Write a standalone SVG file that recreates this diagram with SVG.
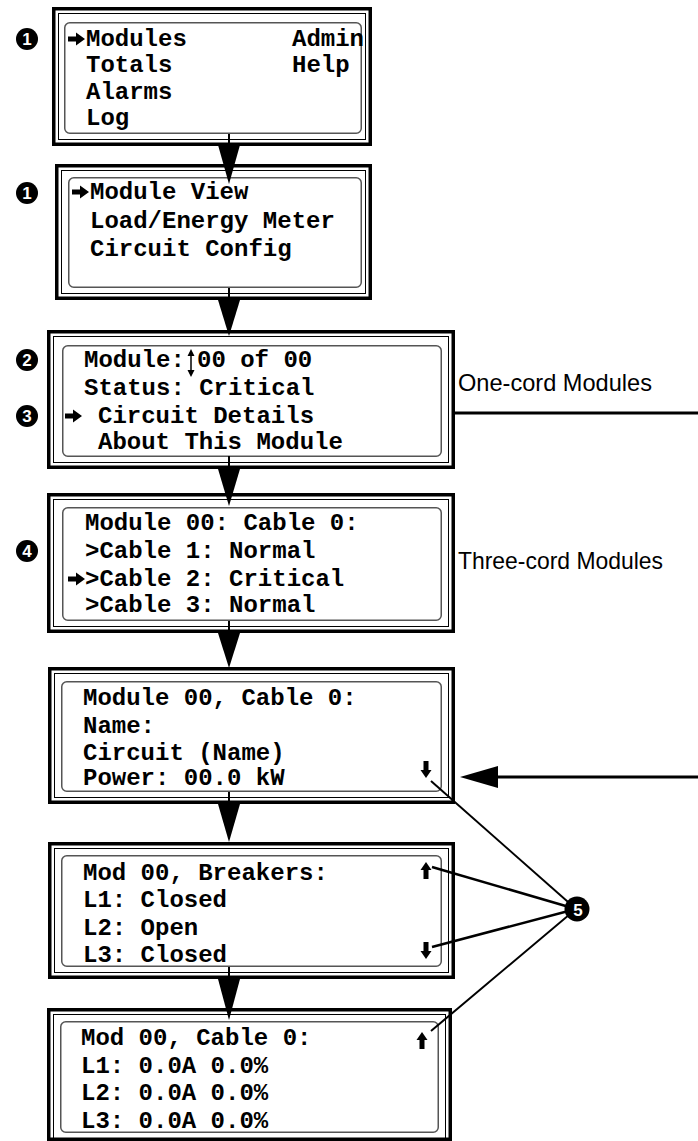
<svg xmlns="http://www.w3.org/2000/svg" xmlns:xlink="http://www.w3.org/1999/xlink" width="698" height="1141" viewBox="0 0 698 1141">
<style>
.outer{fill:#fff;stroke:#000;stroke-width:3.5}
.inner{fill:none;stroke:#000;stroke-width:1}
.screen{fill:none;stroke:#555;stroke-width:1.5}
.t{font-family:"Liberation Mono","Courier New",monospace;font-weight:bold;font-size:24px;fill:#000}
.lbl{font-family:"Liberation Sans Narrow","Liberation Sans",Arial,sans-serif;font-size:24px;fill:#000}
.num{font-family:"Liberation Sans",Arial,sans-serif;font-weight:bold;font-size:17px;fill:#fff;text-anchor:middle}
.conn{stroke:#000;fill:none}
</style>
<defs>
<path id="ra" d="M0,-2.5 H8 V-6.5 L17,0 L8,6.5 V2.5 H0 Z" fill="#000"/>
<path id="da" d="M-2.5,-17 H2.5 V-8 H5.5 L0,0 L-5.5,-8 H-2.5 Z" fill="#000"/>
<path id="ua" d="M-2.5,17 H2.5 V8 H5.5 L0,0 L-5.5,8 H-2.5 Z" fill="#000"/>
</defs>

<g id="box1">
<rect class="outer" x="53.75" y="8.75" width="316.5" height="135.5"/>
<rect class="inner" x="58.5" y="13.5" width="307" height="126"/>
<rect class="screen" x="64.75" y="22.75" width="296.5" height="110.5" rx="5"/>
<use xlink:href="#ra" x="68" y="39"/>
<text class="t" x="86" y="46">Modules</text>
<text class="t" x="292" y="46">Admin</text>
<text class="t" x="86" y="72">Totals</text>
<text class="t" x="292" y="72">Help</text>
<text class="t" x="86" y="99">Alarms</text>
<text class="t" x="86" y="125">Log</text>
</g>

<g id="box2">
<rect class="outer" x="56.75" y="165.75" width="313.5" height="132.5"/>
<rect class="inner" x="61.5" y="170.5" width="304" height="123"/>
<rect class="screen" x="68.75" y="177.75" width="292.5" height="109.5" rx="5"/>
<use xlink:href="#ra" x="72" y="192"/>
<text class="t" x="90" y="199">Module View</text>
<text class="t" x="90" y="227.5">Load/Energy Meter</text>
<text class="t" x="90" y="256">Circuit Config</text>
</g>

<g id="box3">
<rect class="outer" x="48.75" y="331.75" width="404.5" height="135.5"/>
<rect class="inner" x="53.5" y="336.5" width="395" height="126"/>
<rect class="screen" x="62.75" y="345.75" width="378.5" height="110.5" rx="5"/>
<text class="t" x="84" y="367">Module:</text>
<line x1="191" y1="352" x2="191" y2="374" stroke="#000" stroke-width="1.5"/>
<path d="M187.5,356 L191,349 L194.5,356 Z M187.5,370 L191,377 L194.5,370 Z"/>
<text class="t" x="197" y="367">00 of 00</text>
<text class="t" x="84" y="395">Status: Critical</text>
<use xlink:href="#ra" x="65" y="416"/>
<text class="t" x="98" y="423">Circuit Details</text>
<text class="t" x="98" y="449">About This Module</text>
</g>

<g id="box4">
<rect class="outer" x="48.75" y="494.75" width="404.5" height="136.5"/>
<rect class="inner" x="53.5" y="499.5" width="395" height="127"/>
<rect class="screen" x="62.75" y="507.75" width="378.5" height="112.5" rx="5"/>
<text class="t" x="85" y="530">Module 00: Cable 0:</text>
<text class="t" x="85" y="558">&gt;Cable 1: Normal</text>
<use xlink:href="#ra" x="68" y="579"/>
<text class="t" x="85" y="586">&gt;Cable 2: Critical</text>
<text class="t" x="85" y="612">&gt;Cable 3: Normal</text>
</g>

<g id="box5">
<rect class="outer" x="49.75" y="668.75" width="403.5" height="133.5"/>
<rect class="inner" x="54.5" y="673.5" width="394" height="124"/>
<rect class="screen" x="61.75" y="681.75" width="379.5" height="109.5" rx="5"/>
<text class="t" x="83" y="705">Module 00, Cable 0:</text>
<text class="t" x="83" y="733">Name:</text>
<text class="t" x="83" y="760">Circuit (Name)</text>
<text class="t" x="83" y="785">Power: 00.0 kW</text>
<use xlink:href="#da" x="426" y="778"/>
</g>

<g id="box6">
<rect class="outer" x="49.75" y="843.75" width="403.5" height="133.5"/>
<rect class="inner" x="54.5" y="848.5" width="394" height="124"/>
<rect class="screen" x="61.75" y="855.75" width="379.5" height="110.5" rx="5"/>
<text class="t" x="83" y="880">Mod 00, Breakers:</text>
<text class="t" x="83" y="907">L1: Closed</text>
<text class="t" x="83" y="935">L2: Open</text>
<text class="t" x="83" y="962">L3: Closed</text>
<use xlink:href="#ua" x="426" y="862"/>
<use xlink:href="#da" x="426" y="959"/>
</g>

<g id="box7">
<rect class="outer" x="48.75" y="1009.75" width="401.5" height="129.5"/>
<rect class="inner" x="53.5" y="1014.5" width="392" height="125"/>
<rect class="screen" x="60.75" y="1021.75" width="377.5" height="110.5" rx="5"/>
<text class="t" x="81" y="1045">Mod 00, Cable 0:</text>
<text class="t" x="81" y="1073">L1: 0.0A 0.0%</text>
<text class="t" x="81" y="1100">L2: 0.0A 0.0%</text>
<text class="t" x="81" y="1128">L3: 0.0A 0.0%</text>
<use xlink:href="#ua" x="422" y="1032"/>
</g>

<g id="connectors">
<line class="conn" x1="229" y1="134" x2="229" y2="146" stroke-width="2"/>
<path d="M218,145 L240,145 L229,184 Z"/>
<line class="conn" x1="229" y1="288" x2="229" y2="300" stroke-width="2"/>
<path d="M218,300 L240,300 L229,336 Z"/>
<line class="conn" x1="229" y1="456" x2="229" y2="469" stroke-width="2"/>
<path d="M218,469 L240,469 L229,506 Z"/>
<line class="conn" x1="229" y1="621" x2="229" y2="633" stroke-width="2"/>
<path d="M218,633 L240,633 L229,668 Z"/>
<line class="conn" x1="229" y1="792" x2="229" y2="804" stroke-width="2"/>
<path d="M218,804 L240,804 L229,842 Z"/>
<line class="conn" x1="229" y1="967" x2="229" y2="979" stroke-width="2"/>
<path d="M218,979 L240,979 L229,1020 Z"/>
<line class="conn" x1="455" y1="413" x2="698" y2="413" stroke-width="3"/>
<line class="conn" x1="495" y1="777" x2="698" y2="777" stroke-width="3"/>
<path d="M460,777 L498,766 L498,788 Z"/>
<line class="conn" x1="431" y1="781" x2="576" y2="909" stroke-width="2"/>
<line class="conn" x1="432" y1="867" x2="576" y2="909" stroke-width="2.5"/>
<line class="conn" x1="432" y1="947" x2="576" y2="909" stroke-width="2.5"/>
<line class="conn" x1="431" y1="1031" x2="576" y2="909" stroke-width="2"/>
</g>

<g id="labels">
<text class="lbl" x="458" y="391" textLength="194" lengthAdjust="spacingAndGlyphs">One-cord Modules</text>
<text class="lbl" x="458" y="569" textLength="205" lengthAdjust="spacingAndGlyphs">Three-cord Modules</text>
</g>

<g id="callouts">
<g id="c1a"><circle cx="27" cy="39" r="11"/><text class="num" x="27" y="45">1</text></g>
<g id="c1b"><circle cx="27" cy="193" r="11"/><text class="num" x="27" y="199">1</text></g>
<g id="c2"><circle cx="27" cy="360" r="11"/><text class="num" x="27" y="366">2</text></g>
<g id="c3"><circle cx="27" cy="416" r="11"/><text class="num" x="27" y="422">3</text></g>
<g id="c4"><circle cx="27" cy="551" r="11"/><text class="num" x="27" y="557">4</text></g>
<g id="c5"><circle cx="577" cy="909" r="12.5"/><text class="num" x="578" y="915.5">5</text></g>
</g>
</svg>
